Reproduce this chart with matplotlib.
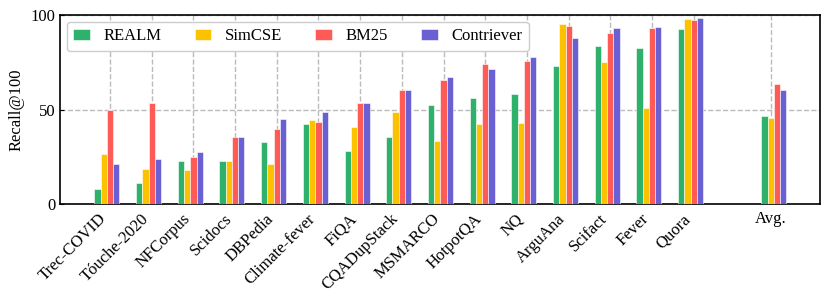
import numpy as np
import matplotlib
matplotlib.use("Agg")
import matplotlib.pyplot as plt

plt.rcParams['font.family'] = ['Liberation Serif', 'DejaVu Serif']
plt.rcParams['mathtext.fontset'] = 'stix'

datasets = ["Trec-COVID", "Tóuche-2020", "NFCorpus", "Scidocs", "DBPedia",
            "Climate-fever", "FiQA", "CQADupStack", "MSMARCO", "HotpotQA",
            "NQ", "ArguAna", "Scifact", "Fever", "Quora"]
realm = [7.9, 11.3, 22.8, 22.9, 32.8, 42.2, 27.9, 35.4, 52.4, 55.9, 58.0, 73.0, 83.6, 82.4, 92.6]
simcse = [26.6, 18.5, 18.0, 22.8, 21.3, 44.6, 40.9, 48.7, 33.3, 42.5, 42.7, 95.2, 75.1, 50.6, 97.7]
bm25 = [49.7, 53.6, 24.9, 35.6, 39.7, 43.4, 53.6, 60.5, 65.6, 73.9, 75.8, 94.2, 90.6, 92.9, 97.2]
contriever = [21.2, 23.8, 27.3, 35.4, 45.1, 48.7, 53.4, 60.3, 67.2, 71.3, 77.6, 87.7, 92.9, 93.4, 98.6]
avg = [46.7, 45.3, 63.3, 60.3]

names = ["REALM", "SimCSE", "BM25", "Contriever"]
colors = ["#2eb26b", "#fcc200", "#fe5b56", "#6a5fd3"]
series = [realm, simcse, bm25, contriever]

x = np.arange(len(datasets))
avg_pos = 16
w = 0.15
offsets = [-2 * w, -w, 0, w]

fig = plt.figure(figsize=(8.3, 3.0), dpi=100)
ax = fig.add_axes([0.0723, 0.32, 0.9157, 0.63])

for k in range(4):
    ax.bar(x + offsets[k], series[k], width=w, color=colors[k], label=names[k],
           edgecolor="white", linewidth=0.4, zorder=3)
    ax.bar(avg_pos + offsets[k], avg[k], width=w, color=colors[k],
           edgecolor="white", linewidth=0.4, zorder=3)

ax.set_xlim(-1.2, 17.03)
ax.set_ylim(0, 100)
ax.set_yticks([0, 50, 100])
ax.set_ylabel("Recall@100", fontsize=12)

ticks = list(x) + [15.85]
ax.set_xticks(ticks)
ax.set_xticklabels(datasets + ["Avg."], fontsize=12)
for lab in ax.get_xticklabels()[:-1]:
    lab.set_rotation(45)
    lab.set_ha("right")
ax.tick_params(axis="both", direction="in", labelsize=12, length=3)
ax.tick_params(axis="x", length=0, pad=5)

ax.grid(True, linestyle="--", color="#bbbbbb", linewidth=1, zorder=0)
ax.set_axisbelow(True)
for s in ax.spines.values():
    s.set_linewidth(1.2)

ax.legend(loc="upper left", ncol=4, fontsize=12, handlelength=1.0,
          handleheight=0.7, columnspacing=2.0, framealpha=1,
          edgecolor="#cccccc", borderaxespad=0.4)

fig.savefig("out.png", dpi=100)
